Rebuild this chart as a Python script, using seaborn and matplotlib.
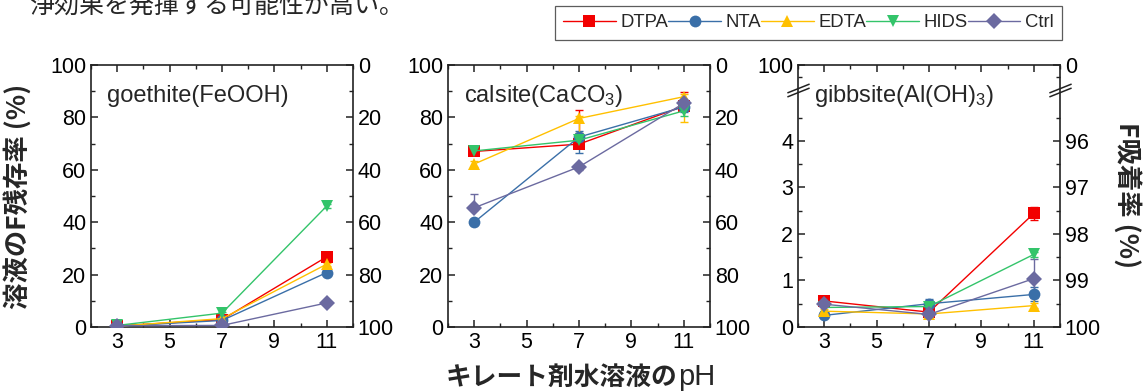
import matplotlib
matplotlib.use('Agg')
import pandas as pd
import matplotlib.pyplot as plt
import seaborn as sns
from matplotlib.lines import Line2D
from matplotlib.ticker import MultipleLocator, FixedLocator
import matplotlib.transforms as mtrans

# ---- data ----
agents = ['DTPA', 'NTA', 'EDTA', 'HIDS', 'Ctrl']
colors = ['#f20000', '#3a6fa8', '#ffc000', '#33c46a', '#6b6aa0']
markers = ['s', 'o', '^', 'v', 'D']
ph = [3, 7, 11]

goethite = {'DTPA': [0.4, 2.8, 26.8], 'NTA': [0.3, 2.5, 20.8], 'EDTA': [0.3, 3.2, 24.0],
            'HIDS': [0.6, 5.3, 46.2], 'Ctrl': [0.5, 0.6, 9.2]}
goethite_err = {'DTPA': [0.2, 0.4, 0.8], 'NTA': [0.2, 0.4, 0.6], 'EDTA': [0.2, 0.4, 0.6],
                'HIDS': [0.2, 0.5, 0.8], 'Ctrl': [0.2, 0.2, 0.5]}

calsite = {'DTPA': [67.0, 69.8, 84.3], 'NTA': [40.0, 72.5, 84.0], 'EDTA': [62.2, 79.6, 87.9],
           'HIDS': [67.2, 71.3, 82.5], 'Ctrl': [45.5, 61.1, 85.4]}
calsite_err_lo = {'DTPA': [1.0, 1.0, 1.0], 'NTA': [0.5, 6.0, 2.0], 'EDTA': [1.0, 5.5, 9.5],
                  'HIDS': [1.0, 2.0, 2.0], 'Ctrl': [1.0, 1.0, 1.0]}
calsite_err_hi = {'DTPA': [1.0, 13.0, 5.5], 'NTA': [0.5, 2.5, 2.0], 'EDTA': [1.0, 1.0, 1.0],
                  'HIDS': [1.0, 2.0, 2.0], 'Ctrl': [5.3, 1.0, 1.0]}

gibbsite = {'DTPA': [0.56, 0.32, 2.44], 'NTA': [0.25, 0.50, 0.70], 'EDTA': [0.34, 0.28, 0.46],
            'HIDS': [0.42, 0.44, 1.56], 'Ctrl': [0.49, 0.27, 1.04]}
gibbsite_err = {'DTPA': [0.05, 0.03, 0.13], 'NTA': [0.03, 0.10, 0.15], 'EDTA': [0.05, 0.03, 0.05],
                'HIDS': [0.08, 0.05, 0.05], 'Ctrl': [0.03, 0.03, 0.42]}

titles = ['goethite(FeOOH)', 'calsite(CaCO$_3$)', 'gibbsite(Al(OH)$_3$)']
x_ticks = [3, 5, 7, 9, 11]
gib_ticks = [0, 1, 2, 3, 4, 5.63]
gib_left_labels = ['0', '1', '2', '3', '4', '100']
gib_right_labels = ['100', '99', '98', '97', '96', '0']

# ---- style ----
sns.set_theme(style='ticks')
plt.rcParams['font.family'] = ['Liberation Sans', 'Noto Sans CJK JP']
plt.rcParams['mathtext.fontset'] = 'custom'
plt.rcParams['mathtext.rm'] = 'Liberation Sans'
plt.rcParams['mathtext.it'] = 'Liberation Sans'
SPINE = '#222222'
TICK_FS = 15.5
MS = 8.5
JP = 'Noto Sans CJK JP'


def long_frame(values):
    rows = []
    for a in agents:
        for x, v in zip(ph, values[a]):
            rows.append({'pH': x, 'val': v, 'agent': a})
    return pd.DataFrame(rows)


def style_axes(ax):
    for s in ax.spines.values():
        s.set_color(SPINE)
        s.set_linewidth(1.2)
    ax.tick_params(which='both', direction='in', colors=SPINE, labelcolor='black',
                   top=True, right=False, labelsize=TICK_FS)
    ax.tick_params(which='major', length=5, width=1.1)
    ax.tick_params(which='minor', length=3, width=1.0)
    ax.set_xlim(2, 12)
    ax.set_xticks(x_ticks)
    ax.xaxis.set_minor_locator(MultipleLocator(1))
    ax.set_xlabel('')
    ax.set_ylabel('')


fig = plt.figure(figsize=(11.47, 3.91), dpi=100)
lefts = [91 / 1147, 448 / 1147, 798 / 1147]
bottom, height, width = 1 - 327 / 391, 262 / 391, 262 / 1147
panels = [(goethite, goethite_err, goethite_err),
          (calsite, calsite_err_lo, calsite_err_hi),
          (gibbsite, gibbsite_err, gibbsite_err)]

for i, (vals, elo, ehi) in enumerate(panels):
    ax = fig.add_axes([lefts[i], bottom, width, height])
    df = long_frame(vals)
    sns.lineplot(data=df, x='pH', y='val', hue='agent', style='agent',
                 hue_order=agents, style_order=agents, palette=colors,
                 markers=markers, dashes=False, markersize=MS,
                 markeredgewidth=0, linewidth=1.0, legend=False, ax=ax, zorder=3)
    for a, c in zip(agents, colors):
        ax.errorbar(ph, vals[a], yerr=[elo[a], ehi[a]], fmt='none', ecolor=c,
                    elinewidth=1.0, capsize=3, capthick=1.0, zorder=2)
    style_axes(ax)
    ax.text(0.06, 0.88, titles[i], transform=ax.transAxes, fontsize=17,
            ha='left', va='center', zorder=5)

    twin = ax.twinx()
    for s in twin.spines.values():
        s.set_visible(False)
    twin.tick_params(which='both', direction='in', colors=SPINE, labelcolor='black',
                     left=False, right=True, labelsize=TICK_FS)
    twin.tick_params(which='major', length=5, width=1.1)
    twin.tick_params(which='minor', length=3, width=1.0)

    if i < 2:
        ax.set_ylim(0, 100)
        ax.yaxis.set_major_locator(MultipleLocator(20))
        ax.yaxis.set_minor_locator(MultipleLocator(10))
        twin.set_ylim(100, 0)
        twin.yaxis.set_major_locator(MultipleLocator(20))
        twin.yaxis.set_minor_locator(MultipleLocator(10))
    else:
        ax.set_ylim(0, gib_ticks[-1])
        ax.set_yticks(gib_ticks)
        ax.set_yticklabels(gib_left_labels)
        ax.yaxis.set_minor_locator(FixedLocator([0.5, 1.5, 2.5, 3.5, 4.5, 5.37]))
        twin.set_ylim(0, gib_ticks[-1])
        twin.set_yticks(gib_ticks)
        twin.set_yticklabels(gib_right_labels)
        twin.yaxis.set_minor_locator(FixedLocator([0.5, 1.5, 2.5, 3.5, 4.5, 5.37]))
        # axis break marks on both spines
        tr = mtrans.blended_transform_factory(ax.transAxes, ax.transData)
        for xs in (0, 1):
            for yb in (5.04, 5.14):
                ax.plot([xs], [yb], marker=[(-1, -0.4), (1, 0.4)], markersize=16,
                        mec=SPINE, mew=1.1, transform=tr, clip_on=False, zorder=6)

# ---- legend ----
handles = [Line2D([], [], color=c, marker=m, markersize=MS, markeredgewidth=0, linewidth=1.0)
           for c, m in zip(colors, markers)]
leg = fig.legend(handles, agents, ncol=5, loc='upper right',
                 bbox_to_anchor=(1062 / 1147, 1 - 6 / 391), fontsize=13.3,
                 handlelength=2.85, handletextpad=0.25, columnspacing=0.0,
                 borderpad=0.45, borderaxespad=0, fancybox=False, frameon=True)
leg.get_frame().set_edgecolor('#333333')
leg.get_frame().set_linewidth(0.9)

# ---- labels ----
fig.text(30 / 1147, 1 - 6 / 391, '浄効果を発揮する可能性が高い。', family=JP,
         fontsize=18, ha='left', va='center')
fig.text(18 / 1147, 1 - 196 / 391, '溶液のF残存率 (%)', family=JP, fontweight='bold',
         fontsize=19, rotation=90, ha='center', va='center')
fig.text(1127 / 1147, 1 - 195 / 391, 'F吸着率 (%)', family=JP, fontweight='bold',
         fontsize=19, rotation=-90, ha='center', va='center')
fig.text(677 / 1147, 1 - 377 / 391, 'キレート剤水溶液の', family=JP, fontweight='bold',
         fontsize=18.5, ha='right', va='center')
fig.text(678 / 1147, 1 - 377 / 391, 'pH', fontsize=21, ha='left', va='center')

fig.savefig('out.png', dpi=100)
